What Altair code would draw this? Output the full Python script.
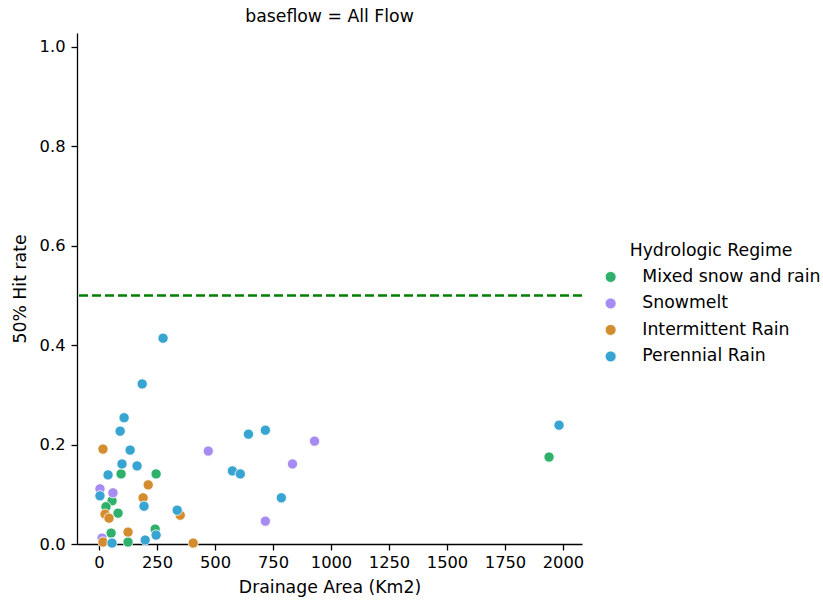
import altair as alt
import pandas as pd

regimes = ["Mixed snow and rain", "Snowmelt", "Intermittent Rain", "Perennial Rain"]
colors = ["#2fb16b", "#a68bf2", "#d38c2e", "#37a4d1"]

mixed_area = [95, 246, 56, 30, 82, 52, 242, 125, 1940]
mixed_hit = [0.141, 0.141, 0.087, 0.075, 0.062, 0.022, 0.030, 0.004, 0.175]

snow_area = [471, 929, 834, 717, 4, 60, 13]
snow_hit = [0.187, 0.207, 0.161, 0.046, 0.111, 0.103, 0.012]

inter_area = [17, 212, 190, 26, 43, 350, 125, 17, 406]
inter_hit = [0.191, 0.119, 0.093, 0.060, 0.052, 0.058, 0.024, 0.004, 0.002]

peren_area = [276, 186, 108, 91, 134, 99, 164, 39, 4, 194, 337, 199, 246, 56,
              644, 717, 575, 609, 786, 1983]
peren_hit = [0.414, 0.322, 0.254, 0.227, 0.189, 0.161, 0.157, 0.139, 0.097, 0.076,
             0.068, 0.008, 0.018, 0.002, 0.221, 0.229, 0.147, 0.141, 0.093, 0.239]

threshold = [0.5]

rows = []
for name, xs, ys in [
    (regimes[0], mixed_area, mixed_hit),
    (regimes[1], snow_area, snow_hit),
    (regimes[2], inter_area, inter_hit),
    (regimes[3], peren_area, peren_hit),
]:
    for a, h in zip(xs, ys):
        rows.append({"area": a, "hit": h, "regime": name})
df = pd.DataFrame(rows)
thr = pd.DataFrame({"y": threshold})

font = "DejaVu Sans"

points = alt.Chart(df).mark_circle(size=105, opacity=1, stroke="white", strokeWidth=0.8).encode(
    x=alt.X("area:Q", title="Drainage Area (Km2)",
            scale=alt.Scale(domain=[-95, 2082], nice=False, zero=False),
            axis=alt.Axis(values=[0, 250, 500, 750, 1000, 1250, 1500, 1750, 2000],
                          format="d", titlePadding=8, labelPadding=4)),
    y=alt.Y("hit:Q", title="50% Hit rate",
            scale=alt.Scale(domain=[0, 1.028], nice=False),
            axis=alt.Axis(values=[0, 0.2, 0.4, 0.6, 0.8, 1.0], format=".1f",
                          titlePadding=10, labelPadding=6)),
    color=alt.Color("regime:N", title="Hydrologic Regime",
                    scale=alt.Scale(domain=regimes, range=colors),
                    legend=alt.Legend(orient="none", legendX=525, legendY=209,
                                      symbolType="circle", symbolSize=120,
                                      symbolStrokeColor="white", symbolStrokeWidth=0.8,
                                      labelOffset=23, rowPadding=8.5, titlePadding=9,
                                      labelLimit=400, titleLimit=400, titleAnchor="middle",
                                      labelFontSize=17.3, titleFontSize=17.3,
                                      titleFontWeight="normal", labelFont=font, titleFont=font,
                                      labelColor="black", titleColor="black")),
)

line = alt.Chart(thr).mark_rule(color="#008000", strokeWidth=2.6, strokeDash=[9, 4]).encode(
    y="y:Q"
)

chart = alt.layer(line, points).properties(
    width=505, height=511,
    title=alt.TitleParams("baseflow = All Flow", fontSize=17.3, fontWeight="normal", font=font,
                          color="black", anchor="middle", offset=8),
    autosize=alt.AutoSizeParams(type="none"),
    padding={"left": 77, "top": 33, "right": 241, "bottom": 57},
).configure_view(stroke=None).configure_axis(
    grid=False, domainColor="black", tickColor="black", labelColor="black",
    titleColor="black", labelFont=font, titleFont=font, labelFontSize=16.3,
    titleFontSize=17.3, titleFontWeight="normal", tickSize=6, domainWidth=1.3, tickWidth=1.3
)

chart.save("out.html", embed_options={"renderer": "svg", "actions": False})
